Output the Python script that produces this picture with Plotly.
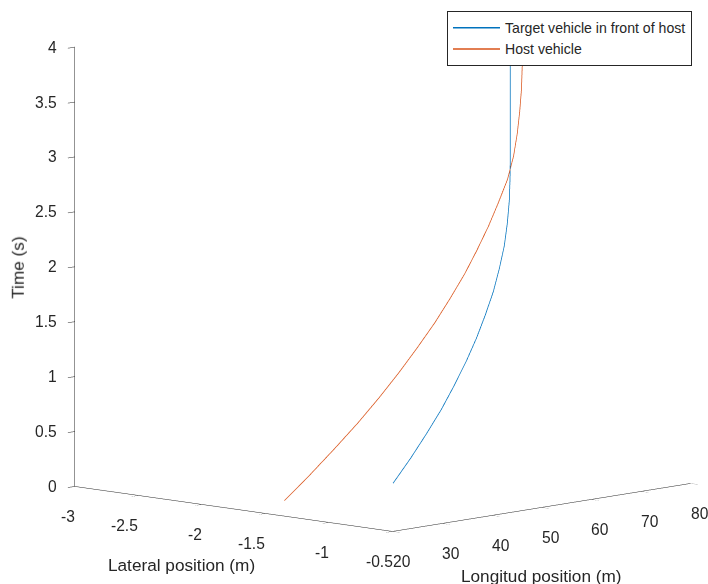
import plotly.graph_objects as go

# Time samples (s)
time_s = [0.0, 0.2, 0.4, 0.6, 0.8, 1.0, 1.2, 1.4, 1.6, 1.8, 2.0, 2.2, 2.4,
          2.6, 2.8, 3.0, 3.2, 3.4, 3.6, 3.8, 4.0]
# Longitudinal positions (m)
target_long = [52.1, 55.6, 58.8, 61.8, 64.4, 66.8, 68.9, 70.7, 72.3, 73.5, 74.5,
               75.1, 75.5, 75.65, 75.7, 75.7, 75.7, 75.7, 75.7, 75.7, 75.7]
host_long = [30.2, 35.4, 40.3, 45.0, 49.3, 53.3, 57.0, 60.5, 63.6, 66.5, 69.0,
             71.3, 73.3, 75.15, 76.35, 77.1, 77.6, 77.95, 78.1, 78.2, 78.2]
# Lateral positions (m)
target_lat = [-1.75] * len(time_s)
host_lat = [-1.75] * len(time_s)

lat_ticks = [-3, -2.5, -2, -1.5, -1, -0.5]
lat_labels = ["-3", "-2.5", "-2", "-1.5", "-1", "-0.5"]
long_ticks = [20, 30, 40, 50, 60, 70, 80]
long_labels = ["20", "30", "40", "50", "60", "70", "80"]
time_ticks = [0, 0.5, 1, 1.5, 2, 2.5, 3, 3.5, 4]
time_labels = ["0", "0.5", "1", "1.5", "2", "2.5", "3", "3.5", "4"]

BLUE = "#0072BD"
ORANGE = "#D95319"
AX = "#262626"
FONT = "Liberation Sans, Arial, sans-serif"
TICKFONT = dict(size=15.6, color=AX, family=FONT)
LABELFONT = dict(size=17.2, color=AX, family=FONT)

fig = go.Figure()
fig.add_trace(go.Scatter3d(x=target_lat, y=target_long, z=time_s, mode="lines",
                           line=dict(color=BLUE, width=1.5),
                           name="Target vehicle in front of host"))
fig.add_trace(go.Scatter3d(x=host_lat, y=host_long, z=time_s, mode="lines",
                           line=dict(color=ORANGE, width=1.5),
                           name="Host vehicle"))

def axis(rng, tickvals):
    return dict(title=dict(text=""),
                range=rng, tickvals=tickvals, autorange=False,
                showbackground=False, showgrid=False, zeroline=False,
                showline=True, linecolor=AX, linewidth=1,
                ticks="outside", tickcolor=AX, ticklen=10,
                showticklabels=False, showspikes=False)

# tick labels placed at the tick positions of the 3D axes
scene_ann = []
for v, t in zip(lat_ticks, lat_labels):
    scene_ann.append(dict(x=v, y=long_ticks[0], z=time_ticks[0], text=t,
                          showarrow=False, xanchor="right", yanchor="middle",
                          xshift=2, yshift=-30, font=TICKFONT))
for v, t in zip(long_ticks, long_labels):
    scene_ann.append(dict(x=lat_ticks[-1], y=v, z=time_ticks[0], text=t,
                          showarrow=False, xanchor="left", yanchor="middle",
                          xshift=-2, yshift=-30, font=TICKFONT))
for v, t in zip(time_ticks, time_labels):
    scene_ann.append(dict(x=lat_ticks[0], y=long_ticks[0], z=v, text=t,
                          showarrow=False, xanchor="right", yanchor="middle",
                          xshift=-16, yshift=0, font=TICKFONT))

SXY = 1.492
SZ = 1.522
cx, cy, cz = -0.0621, -0.0772, -0.0905
fig.update_layout(
    width=708, height=584,
    margin=dict(l=0, r=0, t=0, b=0),
    paper_bgcolor="white",
    font=dict(family=FONT, color=AX),
    scene=dict(
        domain=dict(x=[0.0, 1.0], y=[0.0, 1.0]),
        xaxis=axis([-3, -0.5], lat_ticks),
        yaxis=axis([20, 80], long_ticks),
        zaxis=axis([0, 4], time_ticks),
        aspectmode="manual", aspectratio=dict(x=SXY, y=SXY, z=SZ),
        camera=dict(projection=dict(type="orthographic"),
                    eye=dict(x=cx + 1.352, y=cy - 1.442, z=cz + 0.302),
                    center=dict(x=cx, y=cy, z=cz),
                    up=dict(x=0, y=0, z=1)),
        annotations=scene_ann,
    ),
    legend=dict(x=0.9774, y=0.9812, xanchor="right", yanchor="top",
                bgcolor="white", bordercolor=AX, borderwidth=1,
                itemwidth=47,
                font=dict(size=14.1, color=AX, family=FONT)),
    showlegend=True,
    annotations=[
        dict(text="Lateral position (m)", x=0.2557, y=0.0325, xref="paper", yref="paper",
             xanchor="center", yanchor="middle", showarrow=False, font=LABELFONT),
        dict(text="Longitud position (m)", x=0.7655, y=0.0137, xref="paper", yref="paper",
             xanchor="center", yanchor="middle", showarrow=False, font=LABELFONT),
        dict(text="Time (s)", x=0.0258, y=0.542, xref="paper", yref="paper",
             xanchor="center", yanchor="middle", showarrow=False, textangle=-90,
             font=LABELFONT),
    ],
)

fig.write_html("out.html", config={"displayModeBar": False})
